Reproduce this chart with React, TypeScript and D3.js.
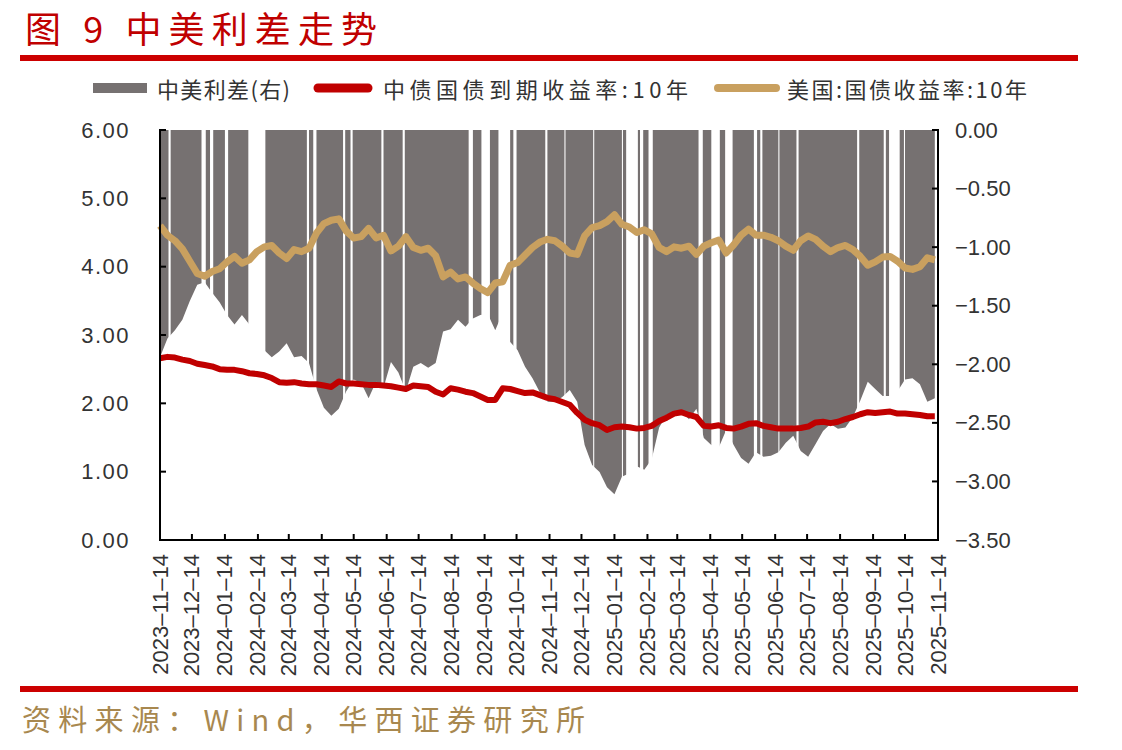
import React from "react";
import * as d3 from "d3";

// weekly observation dates (Tuesdays), 2023-11-14 .. 2025-11-11
const weekDates: Date[] = d3.timeTuesday.range(new Date(2023, 10, 14), new Date(2025, 10, 12));

// 中债国债到期收益率:10年 (%), one reading per week
const cnYield = [
  2.66, 2.68, 2.67, 2.64, 2.62, 2.58, 2.56, 2.54, 2.50, 2.49,
  2.49, 2.47, 2.44, 2.43, 2.41, 2.37, 2.31, 2.30, 2.31, 2.29,
  2.28, 2.28, 2.26, 2.24, 2.32, 2.29, 2.29, 2.28, 2.27, 2.27,
  2.26, 2.25, 2.23, 2.21, 2.26, 2.25, 2.24, 2.17, 2.13, 2.22,
  2.20, 2.17, 2.15, 2.10, 2.05, 2.05, 2.22, 2.21, 2.18, 2.15,
  2.16, 2.12, 2.08, 2.06, 2.02, 1.98, 1.86, 1.76, 1.71, 1.68,
  1.61, 1.65, 1.66, 1.65, 1.63, 1.64, 1.67, 1.74, 1.79, 1.85,
  1.87, 1.83, 1.80, 1.67, 1.66, 1.68, 1.64, 1.63, 1.66, 1.70,
  1.71, 1.67, 1.65, 1.63, 1.63, 1.63, 1.64, 1.66, 1.72, 1.73,
  1.71, 1.73, 1.77, 1.80, 1.84, 1.87, 1.86, 1.87, 1.88, 1.85,
  1.85, 1.84, 1.83, 1.81, 1.81,
];

// 美国:国债收益率:10年 (%), one reading per week
const usYield = [
  4.60, 4.46, 4.38, 4.26, 4.08, 3.90, 3.86, 3.93, 3.97, 4.07,
  4.15, 4.05, 4.10, 4.22, 4.29, 4.31, 4.20, 4.12, 4.25, 4.22,
  4.27, 4.49, 4.63, 4.68, 4.70, 4.52, 4.42, 4.44, 4.56, 4.42,
  4.46, 4.23, 4.30, 4.44, 4.28, 4.24, 4.27, 4.16, 3.85, 3.92,
  3.82, 3.85, 3.76, 3.68, 3.62, 3.76, 3.78, 4.02, 4.06, 4.17,
  4.28, 4.36, 4.40, 4.38, 4.30, 4.20, 4.18, 4.45, 4.57, 4.60,
  4.66, 4.76, 4.62, 4.58, 4.50, 4.54, 4.48, 4.28, 4.22, 4.29,
  4.27, 4.30, 4.18, 4.30, 4.35, 4.39, 4.20, 4.32, 4.46, 4.55,
  4.46, 4.46, 4.43, 4.38, 4.30, 4.24, 4.38, 4.45, 4.40, 4.30,
  4.22, 4.28, 4.31, 4.25, 4.15, 4.02, 4.07, 4.14, 4.15, 4.08,
  3.98, 3.96, 4.00, 4.13, 4.10,
];

// days with no spread value (holidays in either market)
const missingRanges: [string, string][] = [
  ["2023-11-22", "2023-11-24"], ["2023-12-23", "2023-12-27"], ["2023-12-31", "2024-01-03"],
  ["2024-01-14", "2024-01-17"], ["2024-02-05", "2024-02-21"], ["2024-03-31", "2024-04-02"],
  ["2024-04-06", "2024-04-09"], ["2024-05-04", "2024-05-06"], ["2024-05-11", "2024-05-13"],
  ["2024-06-09", "2024-06-11"], ["2024-06-29", "2024-07-01"], ["2024-08-30", "2024-09-03"],
  ["2024-09-11", "2024-09-19"], ["2024-09-27", "2024-10-08"], ["2024-10-11", "2024-10-14"],
  ["2024-11-10", "2024-11-12"], ["2024-11-28", "2024-11-29"], ["2024-12-25", "2024-12-26"],
  ["2025-01-21", "2025-01-22"], ["2025-01-25", "2025-02-05"], ["2025-02-07", "2025-02-10"],
  ["2025-02-15", "2025-02-19"], ["2025-04-03", "2025-04-07"], ["2025-04-15", "2025-04-23"],
  ["2025-04-28", "2025-05-05"], ["2025-05-25", "2025-05-28"], ["2025-05-31", "2025-06-02"],
  ["2025-06-17", "2025-06-18"], ["2025-07-04", "2025-07-06"], ["2025-08-30", "2025-09-01"],
  ["2025-09-24", "2025-09-26"], ["2025-09-29", "2025-10-09"], ["2025-10-13", "2025-10-14"],
];

const leftTicks = [0, 1, 2, 3, 4, 5, 6];
const rightTicks = [0, -0.5, -1, -1.5, -2, -2.5, -3, -3.5];
const monthTicks = d3.range(25).map(i => new Date(2023, 10 + i, 14));

const legendLabels = ["中美利差(右)", "中债国债到期收益率:10年", "美国:国债收益率:10年"];

const GRAY = "#767171";
const RED = "#c00000";
const GOLD = "#c9a05f";
const CJK = "'Noto Sans CJK SC', sans-serif";
const LATIN = "'Liberation Sans', Arial, sans-serif";

type Row = { date: Date; cn: number; us: number; spread: number };

export default function App() {
  const left = 160, right = 938, top = 130, bottom = 540;

  const x = d3.scaleTime()
    .domain([new Date(2023, 10, 14), new Date(2025, 10, 14)])
    .range([left, right]);
  const yL = d3.scaleLinear().domain([0, 6]).range([bottom, top]);
  const yR = d3.scaleLinear().domain([-3.5, 0]).range([bottom, top]);

  const rows: Row[] = weekDates.map((d, i) => ({
    date: d,
    cn: cnYield[i],
    us: usYield[i],
    spread: cnYield[i] - usYield[i],
  }));

  const parse = d3.timeParse("%Y-%m-%d");
  const fmtDate = d3.timeFormat("%Y-%m-%d");
  const fmt2 = d3.format(".2f");

  const spreadArea = d3.area<Row>()
    .x(d => x(d.date))
    .y0(yR(0))
    .y1(d => yR(d.spread));

  const cnLine = d3.line<Row>().x(d => x(d.date)).y(d => yL(d.cn));
  const usLine = d3.line<Row>().x(d => x(d.date)).y(d => yL(d.us));

  return (
    <svg
      width={1122}
      height={750}
      style={{ position: "absolute", left: 0, top: 0, background: "#fff" }}
    >
      {/* title */}
      <text x={25} y={43} fontFamily={CJK} fontSize={36} fill={RED} textLength={352} lengthAdjust="spacing">
        图 9 中美利差走势
      </text>
      <rect x={20} y={55} width={1058} height={6} fill="#cc0000" />

      {/* legend */}
      <rect x={93} y={83} width={54} height={10} fill={GRAY} />
      <text x={157} y={88} dominantBaseline="central" fontFamily={CJK} fontSize={22} fill="#333"
        textLength={133} lengthAdjust="spacing">{legendLabels[0]}</text>
      <line x1={318} x2={368} y1={88} y2={88} stroke={RED} strokeWidth={9} strokeLinecap="round" />
      <text x={383} y={88} dominantBaseline="central" fontFamily={CJK} fontSize={22} fill="#333"
        textLength={305} lengthAdjust="spacing">{legendLabels[1]}</text>
      <line x1={718} x2={776} y1={88} y2={88} stroke={GOLD} strokeWidth={8} strokeLinecap="round" />
      <text x={787} y={88} dominantBaseline="central" fontFamily={CJK} fontSize={22} fill="#333"
        textLength={240} lengthAdjust="spacing">{legendLabels[2]}</text>

      {/* spread area (right axis) with missing days */}
      <path d={spreadArea(rows) ?? ""} fill={GRAY} />
      {missingRanges.map(([s, e]) => {
        const x0 = x(parse(s)!);
        const x1 = x(parse(e)!);
        return <rect key={s} x={x0} y={top} width={Math.max(1, x1 - x0)} height={bottom - top} fill="#fff" />;
      })}

      {/* yield lines */}
      <path d={cnLine(rows) ?? ""} fill="none" stroke={RED} strokeWidth={6} strokeLinejoin="round" />
      <path d={usLine(rows) ?? ""} fill="none" stroke={GOLD} strokeWidth={7} strokeLinejoin="round" />

      {/* axes */}
      <g stroke="#000" strokeWidth={2}>
        <line x1={left} x2={left} y1={top - 1} y2={bottom + 1} />
        <line x1={right} x2={right} y1={top - 1} y2={bottom + 1} />
        <line x1={left - 1} x2={right + 1} y1={bottom} y2={bottom} />
        {leftTicks.map(t => (
          <line key={"l" + t} x1={left} x2={left + 6} y1={yL(t)} y2={yL(t)} />
        ))}
        {rightTicks.map(t => (
          <line key={"r" + t} x1={right} x2={right - 6} y1={yR(t)} y2={yR(t)} />
        ))}
        {monthTicks.map(d => (
          <line key={"b" + d.getTime()} x1={x(d)} x2={x(d)} y1={bottom} y2={bottom - 6} />
        ))}
      </g>

      {leftTicks.map(t => (
        <text key={"lt" + t} x={130} y={yL(t)} textAnchor="end" dominantBaseline="central"
          fontFamily={LATIN} fontSize={22} fill="#333" letterSpacing={1.5}>
          {fmt2(t)}
        </text>
      ))}
      {rightTicks.map(t => (
        <text key={"rt" + t} x={955} y={yR(t)} dominantBaseline="central"
          fontFamily={LATIN} fontSize={22} fill="#333">
          {fmt2(t).replace("-", "−")}
        </text>
      ))}
      {monthTicks.map(d => (
        <text key={"bt" + d.getTime()} transform={`translate(${x(d)},554) rotate(-90)`}
          textAnchor="end" dominantBaseline="central" fontFamily={LATIN} fontSize={22} fill="#333">
          {fmtDate(d).replace(/-/g, "–")}
        </text>
      ))}

      {/* footer */}
      <rect x={20} y={686} width={1058} height={6} fill="#cc0000" />
      <text x={22} y={718} dominantBaseline="central" fontFamily={CJK} fontSize={29} fill="#a8884f"
        textLength={563} lengthAdjust="spacing">
        资料来源：Wind，华西证券研究所
      </text>
    </svg>
  );
}
